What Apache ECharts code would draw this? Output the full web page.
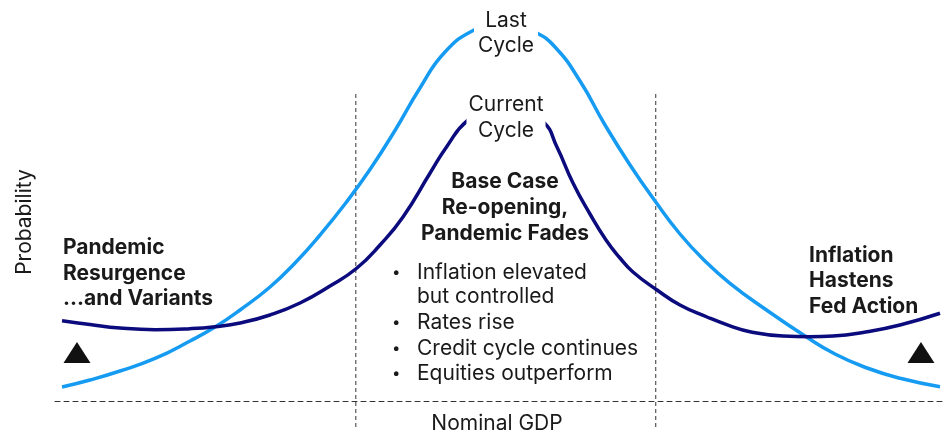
<!DOCTYPE html>
<html><head><meta charset="utf-8">
<script src="https://cdn.jsdelivr.net/npm/echarts@6/dist/echarts.min.js"></script>
<style>html,body{margin:0;padding:0;background:#fff}#c{width:949px;height:434px}</style>
</head><body><div id="c"></div>
<script>
// Curve data: [nominal GDP (0-100), probability (0-100)]
const lastCycle = [[0.79,3.5],[3.93,5.25],[7.30,7.5],[11.24,10.63],[15.17,15],[17.98,18.5],[20.79,22.75],[24.16,28.5],[26.97,34.5],[29.78,41.5],[32.58,49.25],[35.39,57.88],[38.20,67.63],[41.01,78.25],[43.82,87.25],[47.19,92.88],[50.56,95.25],[53.93,92.25],[56.18,88.5],[58.99,80],[61.80,69],[64.61,59],[67.42,50],[70.22,41.75],[73.03,35],[75.84,29.43],[79.78,23],[84.27,16.25],[87.64,11.75],[91.24,8.25],[94.94,5.68],[99.44,3.58]];
const currentCycle = [[0.79,20.08],[3.93,19.13],[7.30,18.25],[11.24,17.83],[15.17,18.08],[17.98,18.58],[20.79,19.5],[24.16,21.5],[27.53,24.5],[30.90,28.75],[33.93,33.25],[36.52,39],[39.10,46],[42.13,56.93],[44.01,63.58],[46.33,70.08],[50.56,76],[54.83,69.88],[56.40,63.5],[58.20,54.5],[60.11,46.75],[61.91,40.25],[63.48,35.75],[64.94,32.25],[67.64,27.75],[70.22,24],[73.26,21],[75.84,18.8],[78.09,17.33],[81.80,16.25],[84.83,16.08],[87.42,16.25],[91.24,17.33],[94.94,19],[99.44,21.93]];
const scenarioBounds = [33.8, 67.5];
const boundRange = [-6.5, 76.75];
const markers = [[2.47,12.1],[97.3,12.1]];
const labelsPeak = ['Last\nCycle', 'Current\nCycle'];
const baseCaseTitle = 'Base Case\nRe-opening,\nPandemic Fades';
const baseCaseBullets = ['Inflation elevated', 'but controlled', 'Rates rise', 'Credit cycle continues', 'Equities outperform'];
const leftTitle = 'Pandemic\nResurgence\n...and Variants';
const rightTitle = 'Inflation\nHastens\nFed Action';
const xName = 'Nominal GDP';
const yName = 'Probability';

const FONT = 'Inter, "Noto Sans", sans-serif';
const FS = 21;
const TXT = '#1a1a1a';
const chart = echarts.init(document.getElementById('c'));

const series = [
  {type:'line', data:lastCycle, smooth:0.5, symbol:'none', lineStyle:{color:'#169bf2', width:3.5}, z:3},
  {type:'line', data:currentCycle, smooth:0.5, symbol:'none', lineStyle:{color:'#0b0b7d', width:3.5}, z:4},
  {type:'scatter', data:markers, symbol:'triangle', symbolSize:[27,21], itemStyle:{color:'#111', opacity:1}, z:5}
];
scenarioBounds.forEach(b => series.push({type:'line', data:[[b,boundRange[0]],[b,boundRange[1]]], symbol:'none', lineStyle:{color:'#333', width:1, type:[4,3]}, z:2}));

function txt(text, x, y, opts) {
  return {type:'text', z:100, x:x, y:y, style:Object.assign({text:text, fill:TXT, font:FS + 'px ' + FONT, lineHeight:25.5}, opts||{})};
}
const BOLD = 'bold ' + FS + 'px ' + FONT;

const bulletY = [272.5, 297, 322.5, 348.5, 373.5];
const bulletElems = [];
baseCaseBullets.forEach((t,i) => {
  bulletElems.push(txt(t, 417, bulletY[i], {align:'left', verticalAlign:'middle'}));
  if (i !== 1) bulletElems.push(txt('•', 392, bulletY[i], {align:'left', verticalAlign:'middle', font:'15px ' + FONT}));
});

chart.setOption({
  animation:false,
  grid:{left:55, right:4, top:1, bottom:1},
  xAxis:{type:'value', min:0, max:100, axisLine:{onZero:true, lineStyle:{color:'#333', width:1, type:[5,4]}}, axisTick:{show:false}, axisLabel:{show:false}, splitLine:{show:false}},
  yAxis:{type:'value', min:-8, max:100, axisLine:{show:false}, axisTick:{show:false}, axisLabel:{show:false}, splitLine:{show:false}},
  series: series,
  graphic:[
    txt(labelsPeak[0], 506, 4.5, {align:'center', verticalAlign:'top', lineHeight:25, backgroundColor:'#fff', padding:[4,4,4,4]}),
    txt(labelsPeak[1], 506, 88, {align:'center', verticalAlign:'top', lineHeight:26, backgroundColor:'#fff', padding:[4,2,4,2]}),
    txt(baseCaseTitle, 505, 169.25, {align:'center', verticalAlign:'top', font:BOLD, lineHeight:25.7}),
    txt(leftTitle, 63, 235.25, {align:'left', verticalAlign:'top', font:BOLD}),
    txt(rightTitle, 809, 242.5, {align:'left', verticalAlign:'top', font:BOLD}),
    txt(xName, 497, 423.5, {align:'center', verticalAlign:'middle'}),
    {type:'text', z:100, x:25, y:222, rotation:Math.PI/2, style:{text:yName, fill:TXT, font:FS + 'px ' + FONT, align:'center', verticalAlign:'middle'}}
  ].concat(bulletElems)
});
</script></body></html>
